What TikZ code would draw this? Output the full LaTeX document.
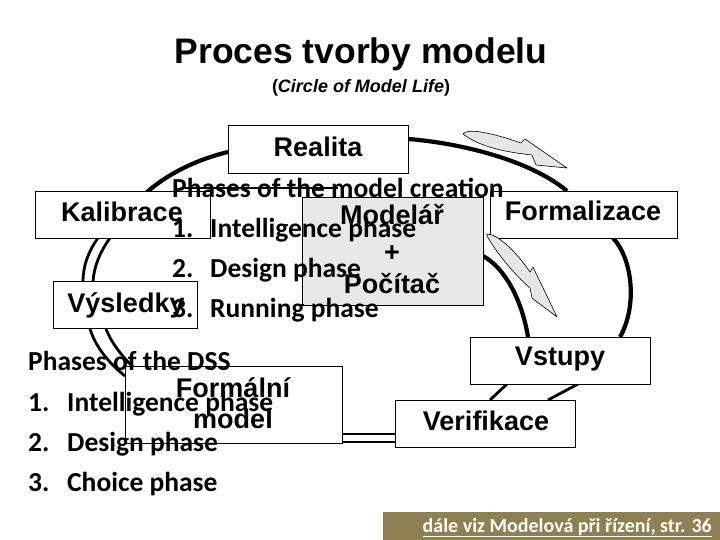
\documentclass[tikz,border=0pt]{standalone}
\usepackage{fontspec}
\newfontfamily\arialf{Liberation Sans}
\newfontfamily\calf{Carlito}
\definecolor{arrowgray}{RGB}{230,230,230}
\definecolor{boxgray}{RGB}{232,232,232}
\definecolor{olive}{RGB}{141,128,82}
\begin{document}
\begin{tikzpicture}[x=1pt,y=-1pt,
  box/.style={draw=black,line width=1pt,fill=white,inner sep=0pt,anchor=north west},
  lbl/.style={inner sep=0pt,anchor=base,font=\arialf\bfseries\fontsize{27}{27}\selectfont},
  cal/.style={inner sep=0pt,anchor=base west,font=\calf\bfseries\fontsize{27.5}{27.5}\selectfont},
  arcline/.style={line width=4.2pt},
  dbl/.style={line width=2.8pt},
  garrow/.style={fill=arrowgray,draw=black,line width=0.6pt,line join=round}]
\useasboundingbox (0,0) rectangle (720,540);
\fill[white] (0,0) rectangle (720,540);

% title
\node[inner sep=0pt,anchor=base,font=\arialf\bfseries\fontsize{35.5}{35.5}\selectfont] (title) at (361,64) {Proces tvorby modelu};
\node[inner sep=0pt,anchor=base,font=\arialf\bfseries\fontsize{18}{18}\selectfont] (subtitle) at (361,93) {(\textit{Circle of Model Life})};

% connector end points
\coordinate (k1) at (147,192); \coordinate (r1) at (228,152);
\coordinate (r2) at (408,139); \coordinate (f1) at (567,191);
\coordinate (f2) at (613,238); \coordinate (v1) at (620,337);
\coordinate (g1) at (483,256); \coordinate (v2) at (528,337);
\coordinate (v3) at (507,384); \coordinate (e1) at (490,400);
\coordinate (v4) at (578,384); \coordinate (e2) at (548,400);
\coordinate (m1) at (342,434); \coordinate (e3) at (395,434);
\coordinate (m2) at (342,442); \coordinate (e4) at (395,442);
\coordinate (k2) at (98,238); \coordinate (y1) at (83,282);
\coordinate (k3) at (110,238); \coordinate (y2) at (93,282);
\coordinate (y3) at (90,329); \coordinate (m3) at (125,376);
\coordinate (y4) at (106,329); \coordinate (m4) at (133,367);
\coordinate (s1) at (180,188); \coordinate (s2) at (338,188);

% loop connectors
\draw[arcline] (k1) .. controls (168,174) and (195,160) .. (r1);
\draw[arcline] (r2) .. controls (460,143) and (530,160) .. (f1);
\draw[arcline] (f2) .. controls (632,258) and (638,305) .. (v1);
\draw[arcline] (g1) .. controls (505,268) and (522,300) .. (v2);
\draw[dbl] (v3) -- (e1);
\draw[dbl] (v4) -- (e2);
\draw[dbl] (m1) -- (e3);
\draw[dbl] (m2) -- (e4);
\draw[dbl] (k2) .. controls (88,252) and (83,266) .. (y1);
\draw[dbl] (k3) .. controls (100,252) and (94,266) .. (y2);
\draw[dbl] (y3) .. controls (96,348) and (110,364) .. (m3);
\draw[dbl] (y4) .. controls (112,344) and (122,356) .. (m4);
\draw[line width=1.5pt] (s1) -- (s2);

% boxes
\node[box,minimum width=180pt,minimum height=48pt] (real) at (228,125) {};
\node[box,minimum width=175pt,minimum height=47pt] (kal) at (35,191) {};
\node[box,minimum width=187pt,minimum height=47pt] (form) at (490,191) {};
\node[box,fill=boxgray,minimum width=181pt,minimum height=108pt] (mod) at (302,197) {};
\node[box,minimum width=144pt,minimum height=47pt] (vys) at (53,281) {};
\node[box,minimum width=180pt,minimum height=47pt] (vst) at (470,337) {};
\node[box,minimum width=180pt,minimum height=47pt] (ver) at (395,400) {};
\node[box,fill=none,minimum width=217pt,minimum height=77pt] (fm) at (125,366) {};

% grey block arrows
\draw[garrow] (463,134) .. controls (466,128) and (490,132) .. (521,143) -- (525,139) -- (567,168) -- (536,165) -- (532,155) .. controls (505,152) and (480,147) .. (463,134) -- cycle;
\draw[garrow] (487,234) .. controls (497,234) and (515,250) .. (530,272) -- (533,267) -- (557,317) -- (532,298) -- (530,288) .. controls (515,275) and (498,255) .. (487,236) -- cycle;

% box labels
\node[lbl] (trealita) at (318,157) {Realita};
\node[lbl] (tkal) at (122,222) {Kalibrace};
\node[lbl] (tform) at (583,221) {Formalizace};
\node[lbl] (tmod1) at (392,225) {Modelář};
\node[lbl] (tmod2) at (392,261) {+};
\node[lbl] (tmod3) at (392,293) {Počítač};
\node[lbl] (tvys) at (126,312) {Výsledky};
\node[lbl] (tvst) at (560,365) {Vstupy};
\node[lbl] (tver) at (486,430) {Verifikace};
\node[lbl] (tfm1) at (233,397) {Formální};
\node[lbl] (tfm2) at (233,428) {model};

% overlay texts (Calibri)
\node[cal] (pa) at (172,198) {Phases of the model creation};
\node[cal] (pa1n) at (172,237) {1.};
\node[cal] (pa1) at (210,237) {Intelligence phase};
\node[cal] (pa2n) at (172,277) {2.};
\node[cal] (pa2) at (210,277) {Design phase};
\node[cal] (pa3n) at (172,317) {3.};
\node[cal] (pa3) at (210,317) {Running phase};

\node[cal] (pb) at (28,370) {Phases of the DSS};
\node[cal] (pb1n) at (28,411) {1.};
\node[cal] (pb1) at (67,411) {Intelligence phase};
\node[cal] (pb2n) at (28,451) {2.};
\node[cal] (pb2) at (67,451) {Design phase};
\node[cal] (pb3n) at (28,491) {3.};
\node[cal] (pb3) at (67,491) {Choice phase};

% bottom bar
\fill[olive] (383,512) rectangle (720,540);
\node[inner sep=0pt,anchor=base east,text=white,font=\calf\bfseries\fontsize{20}{20}\selectfont] (ref) at (712,532) {\underline{dále viz Modelová při řízení, str. 36}};
\end{tikzpicture}
\end{document}
